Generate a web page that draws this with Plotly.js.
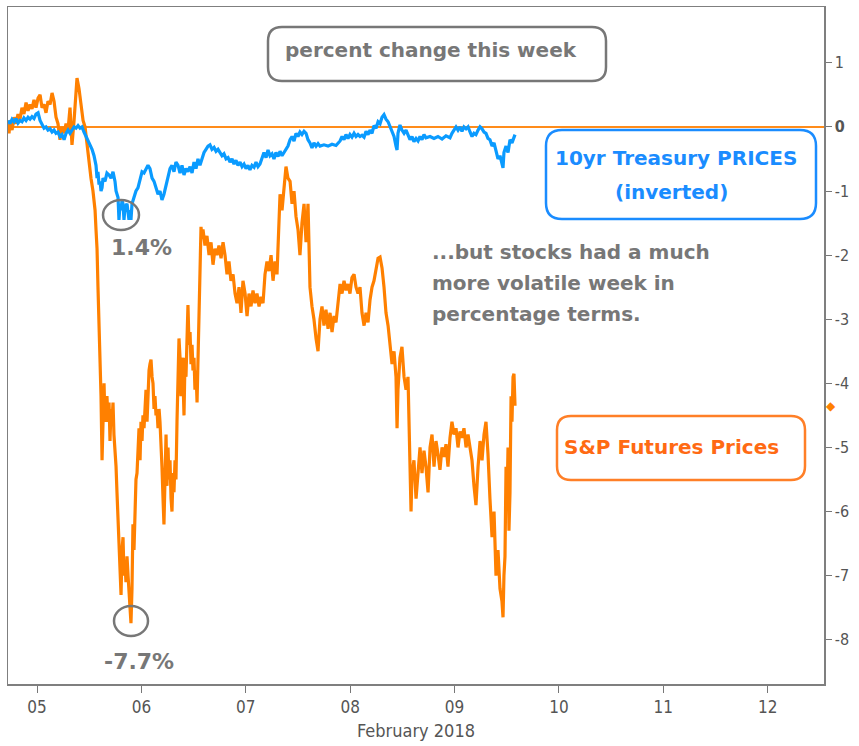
<!DOCTYPE html>
<html>
<head>
<meta charset="utf-8">
<script src="https://cdn.plot.ly/plotly-3.0.1.min.js"></script>
<style>html,body{margin:0;padding:0;background:#fff;}#chart{width:859px;height:746px;}</style>
</head>
<body>
<div id="chart"></div>
<script>
// ---- DATA (day of February 2018, fractional; percent change this week) ----
const spDay = [4.722,4.732,4.741,4.761,4.780,4.799,4.818,4.837,4.856,4.875,4.895,4.914,4.933,4.952,4.971,4.990,5.010,5.029,5.048,5.067,5.086,5.105,5.125,5.144,5.163,5.182,5.201,5.220,5.239,5.259,5.278,5.297,5.316,5.335,5.355,5.374,5.383,5.402,5.421,5.441,5.460,5.479,5.498,5.517,5.536,5.556,5.565,5.575,5.584,5.594,5.604,5.613,5.623,5.632,5.642,5.651,5.661,5.670,5.680,5.690,5.699,5.709,5.718,5.728,5.737,5.747,5.757,5.766,5.776,5.785,5.795,5.805,5.814,5.824,5.833,5.843,5.852,5.862,5.872,5.881,5.891,5.900,5.910,5.919,5.929,5.939,5.948,5.958,5.967,5.977,5.987,5.996,6.006,6.015,6.025,6.035,6.044,6.054,6.063,6.073,6.082,6.092,6.102,6.111,6.121,6.130,6.140,6.149,6.159,6.169,6.178,6.188,6.197,6.207,6.216,6.226,6.236,6.245,6.255,6.264,6.274,6.284,6.293,6.303,6.312,6.322,6.331,6.341,6.351,6.360,6.370,6.379,6.389,6.398,6.408,6.418,6.427,6.437,6.446,6.456,6.466,6.475,6.485,6.494,6.504,6.513,6.523,6.533,6.542,6.552,6.561,6.571,6.581,6.590,6.609,6.628,6.648,6.667,6.686,6.705,6.724,6.743,6.763,6.782,6.801,6.820,6.839,6.858,6.878,6.897,6.916,6.935,6.954,6.973,6.993,7.012,7.031,7.050,7.069,7.088,7.107,7.127,7.146,7.165,7.184,7.203,7.222,7.242,7.261,7.280,7.299,7.318,7.328,7.347,7.366,7.385,7.404,7.424,7.443,7.462,7.481,7.500,7.519,7.538,7.558,7.577,7.596,7.615,7.634,7.653,7.673,7.692,7.711,7.730,7.749,7.768,7.788,7.807,7.826,7.845,7.864,7.883,7.903,7.922,7.941,7.960,7.979,7.998,8.017,8.037,8.056,8.075,8.094,8.113,8.133,8.152,8.171,8.190,8.209,8.228,8.248,8.267,8.286,8.305,8.324,8.343,8.363,8.381,8.401,8.420,8.439,8.449,8.458,8.477,8.496,8.516,8.535,8.554,8.564,8.573,8.583,8.592,8.611,8.631,8.650,8.669,8.688,8.707,8.726,8.746,8.765,8.784,8.803,8.822,8.841,8.860,8.880,8.899,8.918,8.937,8.956,8.975,8.995,9.014,9.033,9.052,9.071,9.090,9.110,9.129,9.148,9.167,9.186,9.205,9.225,9.244,9.263,9.282,9.301,9.320,9.339,9.359,9.378,9.397,9.416,9.435,9.454,9.464,9.473,9.483,9.493,9.502,9.512,9.521,9.531,9.541,9.550,9.560,9.569,9.579];
const spVal = [0.05,-0.1,0.1,-0.05,0.15,0.05,0.2,0.12,0.3,0.2,0.38,0.25,0.35,0.28,0.42,0.3,0.45,0.5,0.3,0.35,0.22,0.4,0.35,0.53,0.4,0.15,0.05,-0.2,0.0,-0.1,0.05,-0.05,0.3,-0.28,0.1,0.55,0.76,0.6,0.3,0.1,0.0,-0.3,-0.55,-0.8,-1.0,-1.3,-1.6,-1.9,-2.5,-3.1,-3.6,-4.2,-5.2,-4.5,-4.0,-4.6,-4.3,-4.2,-4.6,-4.3,-4.9,-4.4,-4.6,-4.3,-4.8,-5.0,-5.3,-5.7,-6.1,-6.4,-6.9,-7.3,-6.6,-6.4,-7.0,-6.8,-7.1,-6.7,-7.0,-7.3,-7.5,-7.74,-7.2,-6.2,-6.6,-5.8,-5.5,-5.4,-4.9,-4.7,-5.2,-4.6,-4.9,-4.5,-4.7,-4.2,-4.1,-4.6,-4.0,-3.8,-3.7,-3.63,-3.9,-4.0,-4.4,-4.2,-4.5,-4.4,-4.7,-4.4,-4.6,-4.9,-5.3,-5.8,-6.2,-5.5,-4.8,-5.6,-5.0,-5.5,-5.2,-5.8,-6.0,-5.4,-5.7,-5.2,-5.5,-4.6,-3.8,-3.3,-3.6,-4.2,-3.6,-3.9,-4.5,-3.6,-3.9,-3.3,-2.78,-3.4,-3.2,-3.7,-3.4,-3.8,-3.6,-4.1,-3.8,-4.3,-3.7,-3.2,-2.3,-1.56,-1.75,-1.6,-1.85,-1.7,-2.0,-1.8,-2.15,-1.9,-2.0,-1.85,-2.05,-1.8,-2.0,-2.3,-2.1,-2.4,-2.3,-2.6,-2.75,-2.5,-2.9,-2.4,-2.6,-2.95,-2.6,-2.8,-2.55,-2.75,-2.6,-2.8,-2.65,-2.75,-2.3,-2.1,-2.25,-2.0,-2.4,-2.1,-2.3,-1.5,-1.05,-1.3,-0.9,-0.62,-0.8,-0.85,-1.2,-1.0,-1.4,-1.6,-2.0,-1.5,-1.2,-1.8,-1.2,-2.5,-2.8,-3.0,-3.3,-3.5,-3.0,-2.8,-3.1,-2.85,-3.15,-2.9,-3.2,-2.95,-3.05,-2.7,-2.45,-2.6,-2.4,-2.55,-2.45,-2.6,-2.35,-2.3,-2.5,-2.6,-2.5,-2.9,-3.1,-2.9,-3.05,-2.7,-2.5,-2.4,-2.2,-2.05,-2.03,-2.2,-2.5,-2.9,-3.1,-3.4,-3.7,-3.5,-3.9,-4.7,-4.1,-3.6,-3.43,-3.9,-4.1,-3.9,-4.8,-5.2,-6.0,-5.4,-5.2,-5.8,-5.3,-5.0,-5.4,-5.05,-5.3,-5.7,-5.0,-4.8,-5.3,-4.9,-5.1,-5.35,-5.0,-5.15,-4.95,-5.3,-4.85,-4.6,-4.8,-4.7,-5.0,-4.75,-4.85,-4.7,-5.0,-4.8,-5.0,-5.2,-5.6,-5.9,-5.3,-4.9,-5.2,-4.8,-4.6,-5.1,-5.8,-6.4,-6.0,-7.0,-6.6,-7.2,-7.4,-7.65,-7.0,-6.7,-5.3,-5.9,-5.0,-6.3,-5.7,-4.2,-4.6,-3.9,-3.85,-4.35];

const tyDay = [4.722,4.741,4.761,4.780,4.799,4.818,4.837,4.856,4.875,4.895,4.914,4.933,4.952,4.971,4.990,5.010,5.029,5.048,5.067,5.086,5.105,5.125,5.144,5.163,5.182,5.201,5.220,5.239,5.259,5.278,5.297,5.316,5.335,5.355,5.374,5.393,5.412,5.431,5.450,5.469,5.489,5.508,5.527,5.546,5.565,5.575,5.584,5.594,5.604,5.613,5.623,5.632,5.651,5.670,5.690,5.709,5.728,5.747,5.757,5.776,5.785,5.795,5.805,5.814,5.824,5.833,5.843,5.862,5.881,5.891,5.900,5.910,5.929,5.948,5.967,5.987,6.006,6.025,6.044,6.063,6.082,6.102,6.121,6.140,6.159,6.178,6.197,6.216,6.236,6.255,6.274,6.293,6.312,6.331,6.351,6.370,6.389,6.408,6.427,6.446,6.466,6.485,6.504,6.523,6.542,6.561,6.581,6.600,6.619,6.638,6.657,6.676,6.696,6.715,6.734,6.753,6.772,6.791,6.811,6.830,6.849,6.868,6.887,6.906,6.925,6.945,6.964,6.983,7.002,7.021,7.040,7.059,7.079,7.098,7.117,7.136,7.155,7.174,7.194,7.213,7.232,7.251,7.270,7.289,7.309,7.328,7.347,7.366,7.385,7.404,7.424,7.443,7.462,7.481,7.500,7.519,7.538,7.558,7.577,7.596,7.615,7.634,7.653,7.673,7.692,7.711,7.749,7.788,7.826,7.864,7.903,7.922,7.941,7.960,7.979,7.998,8.017,8.037,8.056,8.075,8.094,8.113,8.133,8.152,8.171,8.190,8.209,8.228,8.248,8.267,8.286,8.305,8.324,8.343,8.363,8.381,8.401,8.420,8.439,8.449,8.458,8.477,8.496,8.516,8.535,8.554,8.573,8.592,8.611,8.631,8.650,8.669,8.688,8.707,8.726,8.765,8.803,8.841,8.880,8.918,8.956,8.975,8.995,9.014,9.033,9.052,9.071,9.090,9.110,9.129,9.148,9.167,9.186,9.205,9.225,9.244,9.263,9.282,9.301,9.320,9.339,9.359,9.378,9.397,9.416,9.435,9.454,9.464,9.473,9.493,9.512,9.531,9.550,9.569,9.579];
const tyVal = [0.1,0.05,0.12,0.08,0.13,0.06,0.1,0.08,0.14,0.1,0.15,0.12,0.16,0.13,0.2,0.22,0.1,0.05,-0.02,0.0,-0.05,-0.03,-0.08,-0.05,-0.1,-0.08,-0.15,-0.12,-0.2,-0.1,-0.05,-0.1,-0.05,0.0,-0.02,0.02,-0.02,0.0,-0.08,-0.15,-0.2,-0.28,-0.35,-0.45,-0.6,-0.8,-0.7,-0.9,-0.85,-1.0,-0.95,-0.8,-0.85,-0.72,-0.75,-0.8,-0.7,-0.85,-1.0,-1.1,-1.45,-1.2,-1.3,-1.15,-1.2,-1.45,-1.25,-1.2,-1.45,-1.3,-1.45,-1.2,-1.1,-1.0,-0.95,-0.8,-0.7,-0.72,-0.65,-0.6,-0.65,-0.8,-0.85,-0.95,-1.05,-1.0,-1.14,-1.05,-0.9,-0.75,-0.65,-0.6,-0.7,-0.55,-0.6,-0.72,-0.6,-0.75,-0.65,-0.7,-0.62,-0.72,-0.55,-0.65,-0.5,-0.6,-0.5,-0.4,-0.35,-0.3,-0.28,-0.35,-0.32,-0.38,-0.35,-0.4,-0.45,-0.42,-0.5,-0.48,-0.55,-0.5,-0.58,-0.52,-0.6,-0.55,-0.62,-0.58,-0.65,-0.6,-0.67,-0.6,-0.63,-0.55,-0.62,-0.58,-0.5,-0.4,-0.48,-0.36,-0.45,-0.42,-0.5,-0.4,-0.46,-0.38,-0.45,-0.4,-0.35,-0.3,-0.2,-0.15,-0.22,-0.1,-0.15,-0.08,-0.12,-0.07,-0.1,-0.2,-0.25,-0.33,-0.25,-0.3,-0.26,-0.3,-0.28,-0.3,-0.27,-0.29,-0.22,-0.15,-0.2,-0.12,-0.18,-0.12,-0.16,-0.1,-0.15,-0.12,-0.15,-0.13,-0.16,-0.07,-0.12,-0.05,-0.1,0.02,-0.02,0.08,0.05,0.15,0.19,0.12,0.08,0.0,-0.1,-0.15,-0.3,-0.36,-0.1,0.03,-0.05,-0.1,-0.05,-0.12,-0.2,-0.15,-0.23,-0.18,-0.22,-0.15,-0.2,-0.12,-0.17,-0.15,-0.18,-0.15,-0.19,-0.14,-0.17,-0.1,-0.05,0.0,-0.05,0.0,-0.07,0.0,-0.03,0.0,-0.08,-0.15,-0.1,-0.12,-0.05,0.0,-0.03,-0.08,-0.1,-0.18,-0.2,-0.3,-0.25,-0.4,-0.5,-0.45,-0.6,-0.64,-0.4,-0.3,-0.4,-0.2,-0.25,-0.15,-0.12];

const xTickDays = [5,6,7,8,9,10,11,12];
const xTickText = ["05","06","07","08","09","10","11","12"];
const yTickVals = [1,0,-1,-2,-3,-4,-5,-6,-7,-8];
const yTickText = ["1","<b>0</b>","-1","-2","-3","-4","-5","-6","-7","-8"];
const xRangeDays = [4.722, 12.539];
const yRange = [-8.69, 1.87];

// ---- helpers ----
function dayToDate(d){
  const ms = Date.UTC(2018,1,1) + (d-1)*86400000;
  return new Date(ms).toISOString().replace('T',' ').slice(0,19);
}
const L=8, T=7, W=816, H=677;
function px(x){return (x-L)/W;}
function py(y){return (T+H-y)/H;}
function rrect(x0,y0,x1,y1,r,color){
  const p = 'M '+px(x0+r)+','+py(y0)+' L '+px(x1-r)+','+py(y0)+' Q '+px(x1)+','+py(y0)+' '+px(x1)+','+py(y0+r)+
    ' L '+px(x1)+','+py(y1-r)+' Q '+px(x1)+','+py(y1)+' '+px(x1-r)+','+py(y1)+
    ' L '+px(x0+r)+','+py(y1)+' Q '+px(x0)+','+py(y1)+' '+px(x0)+','+py(y1-r)+
    ' L '+px(x0)+','+py(y0+r)+' Q '+px(x0)+','+py(y0)+' '+px(x0+r)+','+py(y0)+' Z';
  return {type:'path', xref:'paper', yref:'paper', path:p, line:{color:color, width:2.5}, layer:'above'};
}
function ell(cx,cy,rx,ry,color){
  return {type:'circle', xref:'paper', yref:'paper', x0:px(cx-rx), x1:px(cx+rx), y0:py(cy+ry), y1:py(cy-ry), line:{color:color,width:2.5}, layer:'above'};
}
const gray = '#777777';
const annFont = 'DejaVu Sans, Verdana, sans-serif';
const tickFont = 'Liberation Sans Narrow, DejaVu Sans Condensed, Arial Narrow, sans-serif';

const traces = [
  {x: spDay.map(dayToDate), y: spVal, type:'scatter', mode:'lines', line:{color:'#ff8000', width:3.2}, hoverinfo:'skip'},
  {x: tyDay.map(dayToDate), y: tyVal, type:'scatter', mode:'lines', line:{color:'#0a9bff', width:3.2}, hoverinfo:'skip'}
];

function ann(text, x, y, color, size, xanchor){
  return {text:text, xref:'paper', yref:'paper', x:px(x), y:py(y), xanchor:xanchor||'center', yanchor:'middle', align:'left', showarrow:false,
    font:{family:annFont, size:size||20, color:color, weight:'bold'}};
}

const layout = {
  width: 859, height: 746,
  margin: {l:L, r:859-L-W, t:T, b:746-T-H},
  paper_bgcolor:'#ffffff', plot_bgcolor:'#ffffff',
  showlegend:false,
  xaxis: {
    type:'date', range: xRangeDays.map(dayToDate),
    tickvals: xTickDays.map(dayToDate), ticktext: xTickText,
    ticks:'outside', ticklen:7, tickwidth:1, tickcolor:'#777',
    showgrid:false, zeroline:false,
    showline:true, mirror:true, linecolor:'#7f7f7f', linewidth:1.5,
    tickfont:{family:tickFont, size:17, color:'#555'},
    title:{text:'February 2018', font:{family:tickFont, size:18, color:'#555'}, standoff:8}
  },
  yaxis: {
    side:'right', range: yRange,
    tickvals: yTickVals, ticktext: yTickText,
    ticks:'outside', ticklen:6, tickwidth:1, tickcolor:'#777',
    showgrid:false,
    zeroline:true, zerolinecolor:'#ff8c1a', zerolinewidth:1.5,
    showline:true, mirror:true, linecolor:'#7f7f7f', linewidth:1.5,
    tickfont:{family:tickFont, size:16, color:'#555'}
  },
  shapes: [
    rrect(268,27,606,81,14,gray),
    rrect(546,130,816,219,16,'#1a8cff'),
    rrect(557,416,805,480,14,'#ff7f27'),
    ell(121,215,18,15,gray),
    ell(131,621,17,15,gray)
  ],
  annotations: [
    ann('percent change this week', 431, 50, gray),
    ann('10yr Treasury PRICES', 676, 158, '#1a8cff'),
    ann('(inverted)', 671, 192, '#1a8cff'),
    ann('S&amp;P Futures Prices', 671, 447, '#ff6a13'),
    ann('...but stocks had a much', 430, 252, gray, 20, 'left'),
    ann('more volatile week in', 430, 283, gray, 20, 'left'),
    ann('percentage terms.', 430, 314, gray, 20, 'left'),
    ann('1.4%', 141, 247, gray, 22),
    ann('-7.7%', 139, 661, gray, 22),
    {text:'◆', xref:'paper', yref:'y', x:px(831), y:spVal[spVal.length-1], xanchor:'center', yanchor:'middle', showarrow:false,
     font:{family:annFont, size:12, color:'#ff8000'}}
  ]
};

Plotly.newPlot('chart', traces, layout, {staticPlot:true, displayModeBar:false});
</script>
</body>
</html>
